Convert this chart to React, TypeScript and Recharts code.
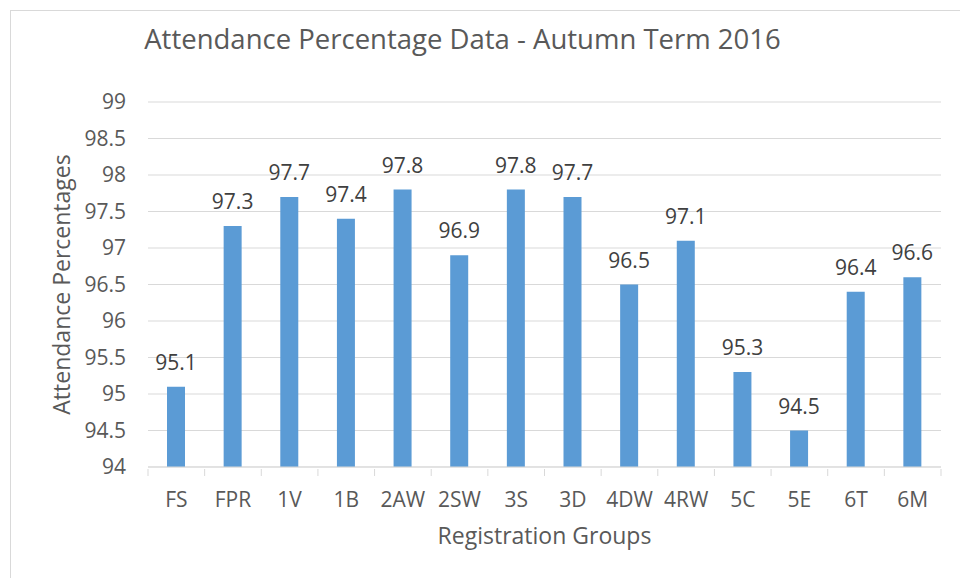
import { Bar, BarChart, CartesianGrid, LabelList, XAxis, YAxis } from "recharts";

const groups = ["FS", "FPR", "1V", "1B", "2AW", "2SW", "3S", "3D", "4DW", "4RW", "5C", "5E", "6T", "6M"];
const attendance = [95.1, 97.3, 97.7, 97.4, 97.8, 96.9, 97.8, 97.7, 96.5, 97.1, 95.3, 94.5, 96.4, 96.6];
const yTicks = [94, 94.5, 95, 95.5, 96, 96.5, 97, 97.5, 98, 98.5, 99];

const data = groups.map((name, i) => ({ name, value: attendance[i] }));

const FONT = "'Open Sans', 'Liberation Sans', sans-serif";
const BAND = (941 - 148) / groups.length;

const GroupTick = (props: any) => {
  const { x, y, payload, index } = props;
  return (
    <g>
      <line x1={x - BAND / 2} x2={x - BAND / 2} y1={y} y2={y + 7} stroke="#d9d9d9" />
      {index === groups.length - 1 ? (
        <line x1={x + BAND / 2} x2={x + BAND / 2} y1={y} y2={y + 7} stroke="#d9d9d9" />
      ) : null}
      <text x={x} y={y + 38} textAnchor="middle" fill="#595959" fontSize={21} fontFamily={FONT}>
        {payload.value}
      </text>
    </g>
  );
};

export default function App() {
  return (
    <div style={{ position: "absolute", left: 0, top: 0, width: 960, height: 578, background: "#fff", overflow: "hidden" }}>
      <div
        style={{
          position: "absolute",
          left: 10,
          top: 10,
          width: 980,
          height: 600,
          border: "1px solid #d9d9d9",
          boxSizing: "border-box"
        }}
      />
      <div
        style={{
          position: "absolute",
          left: 0,
          width: 925,
          top: 19,
          textAlign: "center",
          fontFamily: FONT,
          fontSize: 27.5,
          lineHeight: "40px",
          color: "#595959"
        }}
      >
        Attendance Percentage Data - Autumn Term 2016
      </div>
      <div style={{ position: "absolute", left: 0, top: 0 }}>
        <BarChart width={960} height={578} data={data} margin={{ top: 102, right: 19, bottom: 51, left: 0 }}>
          <CartesianGrid vertical={false} stroke="#d9d9d9" />
          <XAxis
            dataKey="name"
            height={60}
            interval={0}
            axisLine={{ stroke: "#d9d9d9" }}
            tickLine={false}
            tickSize={0}
            tick={<GroupTick />}
            label={{
              value: "Registration Groups",
              position: "bottom",
              offset: 1,
              fill: "#595959",
              fontSize: 23,
              fontFamily: FONT
            }}
          />
          <YAxis
            width={148}
            domain={[94, 99]}
            ticks={yTicks}
            axisLine={false}
            tickLine={false}
            tickSize={0}
            tickMargin={22}
            tick={{ fill: "#595959", fontSize: 21, fontFamily: FONT }}
            label={{
              value: "Attendance Percentages",
              angle: -90,
              position: "insideLeft",
              offset: 62,
              fill: "#595959",
              fontSize: 23,
              fontFamily: FONT,
              style: { textAnchor: "middle" }
            }}
          />
          <Bar dataKey="value" fill="#5b9bd5" barSize={18} isAnimationActive={false}>
            <LabelList dataKey="value" position="top" offset={17} fill="#404040" fontSize={21} fontFamily={FONT} />
          </Bar>
        </BarChart>
      </div>
    </div>
  );
}
